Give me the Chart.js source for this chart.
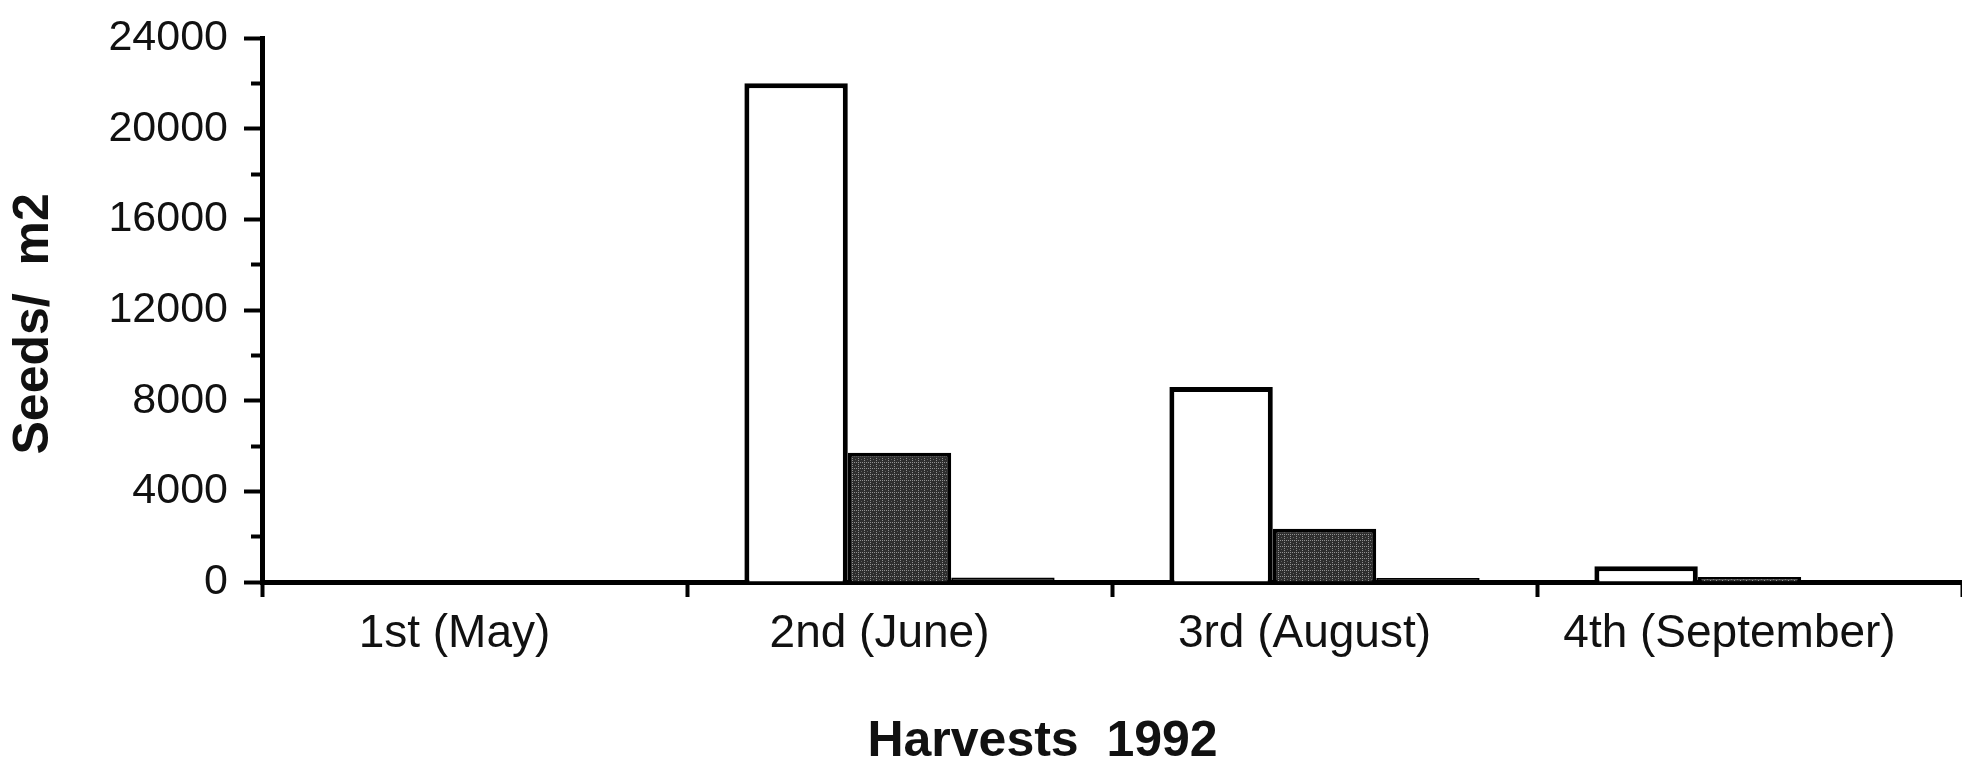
<!DOCTYPE html>
<html>
<head>
<meta charset="utf-8">
<script src="https://cdn.jsdelivr.net/npm/chart.js@4.4.1/dist/chart.umd.min.js"></script>
<style>
html, body { margin: 0; padding: 0; background: #ffffff; }
canvas { display: block; }
</style>
</head>
<body>
<canvas id="c" width="1962" height="767"></canvas>
<script>
// ---- data ----
const categories = ['1st (May)', '2nd (June)', '3rd (August)', '4th (September)'];
const seriesOpen = [0, 22000, 8600, 700];       // white (open) bars
const seriesStippled = [0, 5700, 2350, 220];     // dark stippled bars
const seriesBlack = [0, 200, 180, 0];            // thin solid bars
const yMin = 0;
const yMax = 24000;
const yMinorStep = 2000;
const yLabelStep = 4000;
const yTitle = 'Seeds/  m2';
const xTitle = 'Harvests  1992';

// ---- styles ----
const FONT = '"Liberation Sans", Arial, Helvetica, sans-serif';
const INK = '#111111';

function stipplePattern() {
  const c = document.createElement('canvas');
  c.width = 6; c.height = 6;
  const g = c.getContext('2d');
  g.fillStyle = '#2e2e2e';
  g.fillRect(0, 0, 6, 6);
  g.fillStyle = '#909090';
  for (let i = 0; i < 6; i += 2) {
    g.fillRect(i, 0, 1, 1);
    g.fillRect(0, i, 1, 1);
  }
  g.fillStyle = '#5e5e5e';
  g.fillRect(3, 3, 1, 1);
  return g.createPattern(c, 'repeat');
}

const ctx = document.getElementById('c').getContext('2d');
new Chart(ctx, {
  type: 'bar',
  data: {
    labels: categories,
    datasets: [
      { data: seriesOpen, backgroundColor: '#ffffff', borderColor: '#000000', borderWidth: 5 },
      { data: seriesStippled, backgroundColor: stipplePattern(), borderColor: '#000000', borderWidth: 4 },
      { data: seriesBlack, backgroundColor: '#000000', borderColor: '#000000', borderWidth: 2 }
    ]
  },
  options: {
    responsive: false,
    animation: false,
    devicePixelRatio: 1,
    layout: { padding: { top: 38, left: 0, right: 0, bottom: 0 } },
    datasets: { bar: { categoryPercentage: 0.73, barPercentage: 1.0 } },
    plugins: { legend: { display: false }, tooltip: { enabled: false }, title: { display: false } },
    scales: {
      x: {
        grid: { display: true, drawOnChartArea: false, drawTicks: true, tickLength: 15, tickWidth: 4, tickColor: '#000000', offset: true },
        border: { display: true, width: 5, color: '#000000' },
        ticks: {
          font: { family: FONT, size: 46, lineHeight: 1 },
          color: INK, padding: 14, labelOffset: -20, maxRotation: 0, autoSkip: false
        },
        title: {
          display: true,
          text: xTitle + '\u00A0'.repeat(10),
          font: { family: FONT, size: 50, weight: 'bold', lineHeight: 1 },
          color: INK,
          padding: { top: 0, bottom: 0 }
        },
        afterFit(s) { s.height = 185; }
      },
      y: {
        min: yMin,
        max: yMax,
        ticks: {
          stepSize: yMinorStep,
          autoSkip: false,
          callback: v => (v % yLabelStep === 0 ? String(v) : ''),
          font: { family: FONT, size: 43, lineHeight: 1 },
          color: INK,
          padding: 16
        },
        grid: {
          display: true, drawOnChartArea: false, drawTicks: true,
          tickLength: 18, tickWidth: 4, tickColor: '#000000',
          tickBorderDash: c => (c.tick && c.tick.value % yLabelStep !== 0) ? [0, 7, 11, 200] : []
        },
        border: { display: true, width: 5, color: '#000000' },
        title: {
          display: true,
          text: yTitle + '\u00A0\u00A0',
          font: { family: FONT, size: 50, weight: 'bold', lineHeight: 1 },
          color: INK,
          padding: { top: 9, bottom: 0 }
        },
        afterFit(s) { s.width = 262; }
      }
    }
  }
});
</script>
</body>
</html>
